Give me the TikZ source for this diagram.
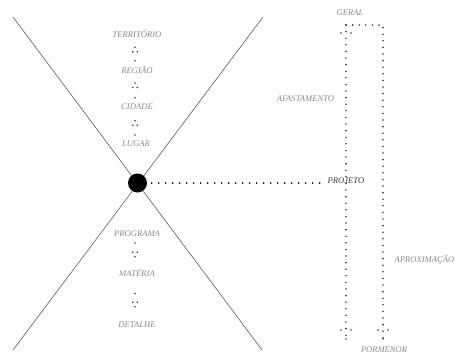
\documentclass[tikz,border=0pt]{standalone}
\usepackage{fontspec}
\setmainfont{Liberation Serif}
\usetikzlibrary{decorations.markings}
\definecolor{lblgray}{HTML}{8A8A8A}
\definecolor{xgray}{HTML}{5A5A5A}
\definecolor{dotgray}{HTML}{3C3C3C}
\definecolor{projgray}{HTML}{3A3A3A}
\begin{document}
\begin{tikzpicture}[x=1pt,y=-1pt,
  lbl/.style={font=\fontsize{8.6}{9}\selectfont\itshape, text=lblgray, inner sep=1pt, text height=5.6pt, text depth=0pt},
  xline/.style={draw=xgray, line width=0.6pt},
  vdots/.style={draw=dotgray, line width=1.8pt, line cap=round, dash pattern=on 0pt off 6.6pt},
  bigdots/.style={draw=black, line width=1.9pt, line cap=round, dash pattern=on 0pt off 7pt},
  onedot/.style={draw=dotgray, line width=1.8pt, line cap=round, dash pattern=on 0pt off 40pt},
  bigtipend/.style={postaction={decorate, decoration={markings, mark=at position 1 with {\fill[dotgray] (0,0) circle (0.9pt) (-9,5) circle (0.9pt) (-9,-5) circle (0.9pt);}}}},
  bigtipstart/.style={postaction={decorate, decoration={markings, mark=at position 0 with {\fill[dotgray] (0,0) circle (0.9pt) (8,5) circle (0.9pt) (8,-5) circle (0.9pt);}}}},
  smalltip/.style={postaction={decorate, decoration={markings, mark=at position 1 with {\fill[dotgray] (0,0) circle (0.9pt) (-4.5,2.3) circle (0.9pt) (-4.5,-2.3) circle (0.9pt);}}}},
]
\useasboundingbox (0,0) rectangle (458,354);

% X lines
\coordinate (xtl) at (13,17);
\coordinate (xbr) at (262,350);
\coordinate (xtr) at (263,17);
\coordinate (xbl) at (13,350);
\draw[xline] (xtl) -- (xbr);
\draw[xline] (xtr) -- (xbl);

% central dot
\node[circle, fill=black, minimum size=19pt, inner sep=0pt] (dot) at (137.5,183) {};

% left column labels
\node[lbl] (territorio) at (137,35) {TERRITÓRIO};
\node[lbl] (regiao) at (137,71) {REGIÃO};
\node[lbl] (cidade) at (137,107) {CIDADE};
\node[lbl] (lugar) at (136,144) {LUGAR};
\node[lbl] (programa) at (137,234) {PROGRAMA};
\node[lbl] (materia) at (137,273.5) {MATÉRIA};
\node[lbl] (detalhe) at (137,325) {DETALHE};

% small arrows (upward)
\draw[onedot, smalltip] ([xshift=-2pt,yshift=10.3pt]regiao.center) -- ([xshift=-2pt,yshift=-12.3pt]territorio.center);
\draw[onedot, smalltip] ([xshift=-2pt,yshift=9.3pt]cidade.center) -- ([xshift=-2pt,yshift=-12pt]regiao.center);
\draw[onedot, smalltip] ([xshift=-1pt,yshift=9pt]lugar.center) -- ([xshift=-2pt,yshift=-13.7pt]cidade.center);
% small arrows (downward)
\draw[onedot, smalltip] ([xshift=-2pt,yshift=-9pt]programa.center) -- ([xshift=-2pt,yshift=16.8pt]materia.center);
\draw[onedot, smalltip] ([xshift=-2pt,yshift=-20pt]materia.center) -- ([xshift=-2pt,yshift=18.3pt]detalhe.center);

% right side
\node[lbl] (geral) at (350,13) {GERAL};
\node[lbl] (pormenor) at (384,349.5) {PORMENOR};
\node[lbl] (afastamento) at (305.5,99) {AFASTAMENTO};
\node[lbl] (aproximacao) at (424.5,260) {APROXIMAÇÃO};
\node[lbl, text=projgray] (projeto) at (346,181) {PROJETO};

\coordinate (gtl) at (346,25);
\coordinate (gtr) at (383,25);
\coordinate (pbl) at (346,339);
\coordinate (pbr) at (383,339);

\draw[vdots, bigtipstart, bigtipend] (gtl) -- (pbl);
\draw[vdots, bigtipend] (gtl) -- (gtr) -- (pbr);

% projection line
\draw[bigdots] ([xshift=4.5pt]dot.east) -- (dot -| projeto.west);
\end{tikzpicture}
\end{document}
